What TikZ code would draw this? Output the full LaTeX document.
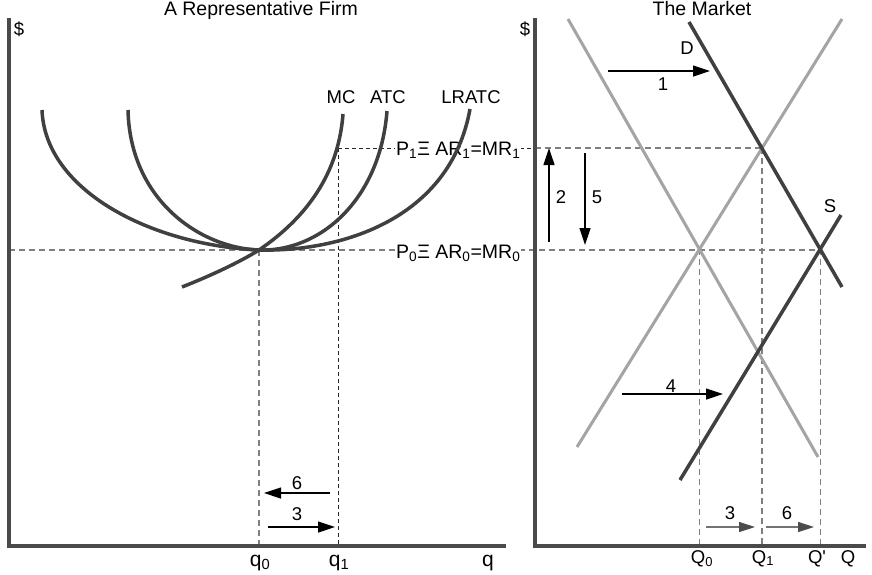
\documentclass[tikz,border=0pt]{standalone}
\usepackage{fontspec}
\setmainfont{Liberation Sans}
\usetikzlibrary{arrows.meta}
\definecolor{curvec}{HTML}{404040}
\definecolor{axisc}{HTML}{4A4A4A}
\definecolor{lightc}{HTML}{A4A4A4}
\definecolor{dashc}{HTML}{808080}
\begin{document}
\begin{tikzpicture}[x=1pt,y=-1pt,
  axisline/.style={draw=axisc, line width=4pt},
  curve/.style={draw=curvec, line width=3.5pt},
  oldline/.style={draw=lightc, line width=3pt},
  guide/.style={draw=dashc, line width=1.2pt, dash pattern=on 6pt off 4pt},
  guidedark/.style={draw=black!85, line width=1pt, dash pattern=on 4pt off 3pt},
  shiftarrow/.style={draw=black, line width=1.2pt, -{Triangle[length=17pt,width=11pt]}},
  grayarrow/.style={draw=black!55, line width=1.3pt, -{Triangle[length=16pt,width=10pt,color=black!70]}},
  lbl/.style={font=\fontsize{18.5}{22}\selectfont, inner sep=0pt, anchor=base},
  qlbl/.style={font=\fontsize{21}{24}\selectfont, inner sep=0pt, anchor=base},
  ttl/.style={font=\fontsize{19.5}{22}\selectfont, inner sep=0pt, anchor=base},
  plbl/.style={font=\fontsize{19.5}{22}\selectfont, fill=white, inner sep=1pt, anchor=base west},
]
\fill[white] (0,0) rectangle (872,574);
\useasboundingbox (0,0) rectangle (872,574);

% ---------- coordinates: left panel ----------
\coordinate (O1) at (9,546);
\coordinate (Y1) at (9,18);
\coordinate (X1) at (506,546);
\coordinate (M) at (259,250);
\coordinate (A1) at (338,148);
\coordinate (LRs) at (42,110);
\coordinate (LRe) at (470,109);
\coordinate (ATs) at (128,110);
\coordinate (ATe) at (387,111);
\coordinate (MCs) at (182,287);
\coordinate (MCe) at (343,114);

% ---------- coordinates: right panel ----------
\coordinate (O2) at (535,546);
\coordinate (Y2) at (535,18);
\coordinate (X2) at (866,546);
\coordinate (D0a) at (568,19);
\coordinate (D0b) at (818,457);
\coordinate (S0a) at (577,447);
\coordinate (S0b) at (842,19);
\coordinate (Da) at (689,22);
\coordinate (Db) at (842,287);
\coordinate (Sa) at (680,480);
\coordinate (Sb) at (841,215);
\coordinate (E0) at (intersection of D0a--D0b and S0a--S0b);
\coordinate (E1) at (intersection of Da--Db and S0a--S0b);
\coordinate (E2) at (intersection of Da--Db and Sa--Sb);

% ---------- guide lines ----------
\draw[guidedark] (A1) -- (A1 -| Y2);
\draw[guide] (A1 -| Y2) -- (A1 -| E1);
\draw[guide] (M -| O1) -- (M -| E2);
\draw[guide] (M) -- (M |- O1);
\draw[guidedark] (A1) -- (A1 |- O1);
\draw[guide] (E0) -- (E0 |- O2);
\draw[guide] (E1) -- (E1 |- O2);
\draw[guide] (E2) -- (E2 |- O2);

% ---------- price labels ----------
\node[plbl] (P1lab) at (395,155) {P\textsubscript{1}Ξ AR\textsubscript{1}=MR\textsubscript{1}};
\node[plbl] (P0lab) at (395,258) {P\textsubscript{0}Ξ AR\textsubscript{0}=MR\textsubscript{0}};

% ---------- cost curves ----------
\draw[curve] (LRs) .. controls (45,190) and (150,245) .. (M)
             .. controls (340,252) and (450,220) .. (LRe);
\draw[curve] (ATs) .. controls (130,200) and (200,248) .. (M)
             .. controls (320,252) and (380,200) .. (ATe);
\draw[curve] (MCs) .. controls (210,276) and (240,262) .. (M)
             .. controls (300,222) and (338,180) .. (MCe);

% ---------- market lines ----------
\draw[oldline] (D0a) -- (D0b);
\draw[oldline] (S0a) -- (S0b);
\draw[curve] (Da) -- (Db);
\draw[curve] (Sa) -- (Sb);

% ---------- axes ----------
\draw[axisline] (Y1) -- (O1) -- (X1);
\draw[axisline] (Y2) -- (O2) -- (X2);

% ---------- arrows ----------
\coordinate (a6s) at (330,493); \coordinate (a6e) at (264,493);
\coordinate (a3s) at (268,527); \coordinate (a3e) at (335,527);
\coordinate (b1s) at (608,71);  \coordinate (b1e) at (710,71);
\coordinate (b2s) at (549,242); \coordinate (b2e) at (549,148);
\coordinate (b5s) at (585,153); \coordinate (b5e) at (585,245);
\coordinate (b4s) at (622,394); \coordinate (b4e) at (723,394);
\coordinate (b3s) at (706,527); \coordinate (b3e) at (755,527);
\coordinate (b6s) at (766,527); \coordinate (b6e) at (814,527);
\draw[shiftarrow] (a6s) -- (a6e);
\draw[shiftarrow] (a3s) -- (a3e);
\draw[shiftarrow] (b1s) -- (b1e);
\draw[shiftarrow] (b2s) -- (b2e);
\draw[shiftarrow] (b5s) -- (b5e);
\draw[shiftarrow] (b4s) -- (b4e);
\draw[grayarrow] (b3s) -- (b3e);
\draw[grayarrow] (b6s) -- (b6e);

% ---------- text ----------
\node[ttl] (ttl1) at (261,15) {A Representative Firm};
\node[ttl] (ttl2) at (702,15) {The Market};
\node[lbl] (dol1) at (19,35) {\$};
\node[lbl] (dol2) at (525,35) {\$};
\node[lbl] (MClab) at (341,103) {MC};
\node[lbl] (ATClab) at (388,103) {ATC};
\node[lbl] (LRATClab) at (471,103) {LRATC};
\node[qlbl] (q0lab) at (260,566) {q\textsubscript{0}};
\node[qlbl] (q1lab) at (339,566) {q\textsubscript{1}};
\node[qlbl] (qlab) at (488,566) {q};
\node[lbl] (Q0lab) at (702,563) {Q\textsubscript{0}};
\node[lbl] (Q1lab) at (763,563) {Q\textsubscript{1}};
\node[lbl] (Qplab) at (817,563) {Q\textquotesingle};
\node[lbl] (Qlab) at (848,563) {Q};
\node[lbl] (Dlab) at (687,54) {D};
\node[lbl] (Slab) at (830,212) {S};
\node[lbl] (n6l) at (297,489) {6};
\node[lbl] (n3l) at (297,520) {3};
\node[lbl] (n1) at (663,90) {1};
\node[lbl] (n2) at (561,203) {2};
\node[lbl] (n5) at (597,203) {5};
\node[lbl] (n4) at (671,392) {4};
\node[lbl] (n3r) at (730,519) {3};
\node[lbl] (n6r) at (787,519) {6};
\end{tikzpicture}
\end{document}
